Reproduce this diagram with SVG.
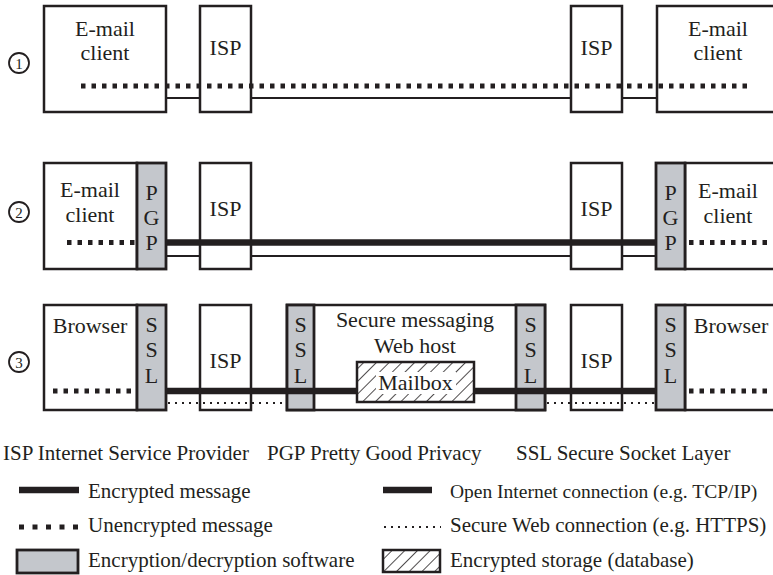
<svg xmlns="http://www.w3.org/2000/svg" width="773" height="575" viewBox="0 0 773 575">
  <defs>
    <pattern id="hatch" patternUnits="userSpaceOnUse" width="9" height="9" patternTransform="rotate(45)">
      <rect width="9" height="9" fill="#fff"/>
      <line x1="0" y1="0" x2="0" y2="9" stroke="#231f20" stroke-width="1.6"/>
    </pattern>
    <style>
      text { font-family: "Liberation Serif", "Times New Roman", serif; fill: #231f20; }
      .lbl { font-size: 22px; text-anchor: middle; }
      .leg { font-size: 21px; }
      .num { font-size: 15px; text-anchor: middle; }
      .box { fill: #fff; stroke: #231f20; stroke-width: 2.5; }
      .sw { fill: #c4c7cc; stroke: #231f20; stroke-width: 2.8; }
      .ring { fill: #fff; stroke: #231f20; stroke-width: 1.8; }
      .thin { stroke: #231f20; stroke-width: 2; fill: none; }
      .thick { stroke: #231f20; stroke-width: 6.5; fill: none; }
      .plain { stroke: #231f20; stroke-width: 5; stroke-dasharray: 4.5 6; fill: none; }
      .plainleg { stroke: #231f20; stroke-width: 5; stroke-dasharray: 5 8.5; fill: none; }
      .fine { stroke: #231f20; stroke-width: 2; stroke-dasharray: 2 5; fill: none; }
    </style>
  </defs>

  <!-- physical links drawn beneath the boxes -->
  <g id="links-under">
    <line class="thin" x1="166" y1="98" x2="657" y2="98"/>
    <line class="thin" x1="166" y1="256" x2="656" y2="256"/>
  </g>

  <!-- scenario 1 -->
  <g id="step1"><circle class="ring" cx="19" cy="63" r="10"/><text class="num" x="19" y="68.5">1</text></g>
  <g id="client-1a">
    <rect class="box" x="44" y="6" width="122" height="106"/>
    <text class="lbl" x="105" y="36">E-mail</text>
    <text class="lbl" x="105" y="60">client</text>
  </g>
  <g id="isp-1a">
    <rect class="box" x="200" y="6" width="51" height="106"/>
    <text class="lbl" x="225.5" y="55">ISP</text>
  </g>
  <g id="isp-1b">
    <rect class="box" x="571" y="6" width="51" height="106"/>
    <text class="lbl" x="596.5" y="55">ISP</text>
  </g>
  <g id="client-1b">
    <rect class="box" x="657" y="6" width="125" height="106"/>
    <text class="lbl" x="718" y="36">E-mail</text>
    <text class="lbl" x="718" y="60">client</text>
  </g>

  <!-- scenario 2 -->
  <g id="step2"><circle class="ring" cx="19" cy="212" r="10"/><text class="num" x="19" y="217.5">2</text></g>
  <g id="client-2a">
    <rect class="box" x="44" y="163" width="93" height="106"/>
    <text class="lbl" x="90" y="197">E-mail</text>
    <text class="lbl" x="90" y="222">client</text>
  </g>
  <g id="pgp-2a">
    <rect class="sw" x="137" y="163" width="29" height="106"/>
    <text class="lbl" x="151.5" y="200">P</text>
    <text class="lbl" x="151.5" y="225">G</text>
    <text class="lbl" x="151.5" y="250">P</text>
  </g>
  <g id="isp-2a">
    <rect class="box" x="200" y="163" width="51" height="106"/>
    <text class="lbl" x="225.5" y="216">ISP</text>
  </g>
  <g id="isp-2b">
    <rect class="box" x="571" y="163" width="51" height="106"/>
    <text class="lbl" x="596.5" y="216">ISP</text>
  </g>
  <g id="client-2b">
    <rect class="box" x="685" y="163" width="100" height="106"/>
    <text class="lbl" x="728" y="198">E-mail</text>
    <text class="lbl" x="728" y="223">client</text>
  </g>
  <g id="pgp-2b">
    <rect class="sw" x="656" y="163" width="29" height="106"/>
    <text class="lbl" x="670.5" y="200">P</text>
    <text class="lbl" x="670.5" y="225">G</text>
    <text class="lbl" x="670.5" y="250">P</text>
  </g>

  <!-- scenario 3 -->
  <g id="step3"><circle class="ring" cx="19" cy="362" r="10"/><text class="num" x="19" y="367.5">3</text></g>
  <g id="browser-3a">
    <rect class="box" x="44" y="305" width="93" height="105"/>
    <text class="lbl" x="90" y="333">Browser</text>
  </g>
  <g id="ssl-3a">
    <rect class="sw" x="137" y="305" width="29" height="105"/>
    <text class="lbl" x="151.5" y="332">S</text>
    <text class="lbl" x="151.5" y="357">S</text>
    <text class="lbl" x="151.5" y="383">L</text>
  </g>
  <g id="isp-3a">
    <rect class="box" x="200" y="305" width="51" height="105"/>
    <text class="lbl" x="225.5" y="368">ISP</text>
  </g>
  <g id="web-host">
    <rect class="box" x="287" y="305" width="258" height="105"/>
    <rect class="sw" x="287" y="305" width="27" height="105"/>
    <rect class="sw" x="516" y="305" width="29" height="105"/>
    <text class="lbl" x="300.5" y="332">S</text>
    <text class="lbl" x="300.5" y="357">S</text>
    <text class="lbl" x="300.5" y="383">L</text>
    <text class="lbl" x="530.5" y="332">S</text>
    <text class="lbl" x="530.5" y="357">S</text>
    <text class="lbl" x="530.5" y="383">L</text>
    <text class="lbl" x="415" y="327">Secure messaging</text>
    <text class="lbl" x="415" y="353">Web host</text>
  </g>
  <g id="mailbox">
    <rect x="357" y="362" width="117" height="40" fill="url(#hatch)" stroke="#231f20" stroke-width="2.5"/>
    <rect x="376" y="372" width="80" height="22" fill="#fff"/>
    <text class="lbl" x="415.5" y="390">Mailbox</text>
  </g>
  <g id="isp-3b">
    <rect class="box" x="571" y="305" width="51" height="105"/>
    <text class="lbl" x="596.5" y="368">ISP</text>
  </g>
  <g id="browser-3b">
    <rect class="box" x="685" y="305" width="100" height="105"/>
    <text class="lbl" x="731" y="333">Browser</text>
  </g>
  <g id="ssl-3b">
    <rect class="sw" x="656" y="305" width="29" height="105"/>
    <text class="lbl" x="670.5" y="332">S</text>
    <text class="lbl" x="670.5" y="357">S</text>
    <text class="lbl" x="670.5" y="383">L</text>
  </g>

  <!-- message paths drawn over the boxes -->
  <g id="links-over">
    <line class="plain" x1="81" y1="86" x2="753" y2="86"/>
    <line class="thick" x1="166" y1="242.5" x2="656" y2="242.5"/>
    <line class="plain" x1="67" y1="242.5" x2="137" y2="242.5"/>
    <line class="plain" x1="689" y1="242.5" x2="773" y2="242.5"/>
    <line class="thick" x1="166" y1="391" x2="357" y2="391"/>
    <line class="thick" x1="474" y1="391" x2="656" y2="391"/>
    <line class="fine" x1="168" y1="403" x2="287" y2="403"/>
    <line class="fine" x1="547" y1="403" x2="656" y2="403"/>
    <line class="plain" x1="53" y1="391" x2="137" y2="391"/>
    <line class="plain" x1="689" y1="391" x2="773" y2="391"/>
  </g>

  <!-- abbreviations and key -->
  <g id="legend">
    <text class="leg" x="3" y="460">ISP Internet Service Provider</text>
    <text class="leg" x="267" y="460">PGP Pretty Good Privacy</text>
    <text class="leg" x="516" y="460">SSL Secure Socket Layer</text>

    <line class="thick" x1="19" y1="490" x2="79" y2="490"/>
    <text class="leg" x="88" y="498">Encrypted message</text>
    <line class="thick" x1="383" y1="490" x2="432" y2="490"/>
    <text class="leg" x="450" y="498" style="font-size:19.5px">Open Internet connection (e.g. TCP/IP)</text>

    <line class="plainleg" x1="19" y1="527" x2="79" y2="527"/>
    <text class="leg" x="88" y="532">Unencrypted message</text>
    <line class="fine" x1="384" y1="527" x2="441" y2="527"/>
    <text class="leg" x="450" y="532">Secure Web connection (e.g. HTTPS)</text>

    <rect class="sw" x="17" y="550" width="61" height="23"/>
    <text class="leg" x="88" y="567">Encryption/decryption software</text>
    <rect x="383" y="550" width="57" height="22" fill="url(#hatch)" stroke="#231f20" stroke-width="2.5"/>
    <text class="leg" x="450" y="567">Encrypted storage (database)</text>
  </g>
</svg>
